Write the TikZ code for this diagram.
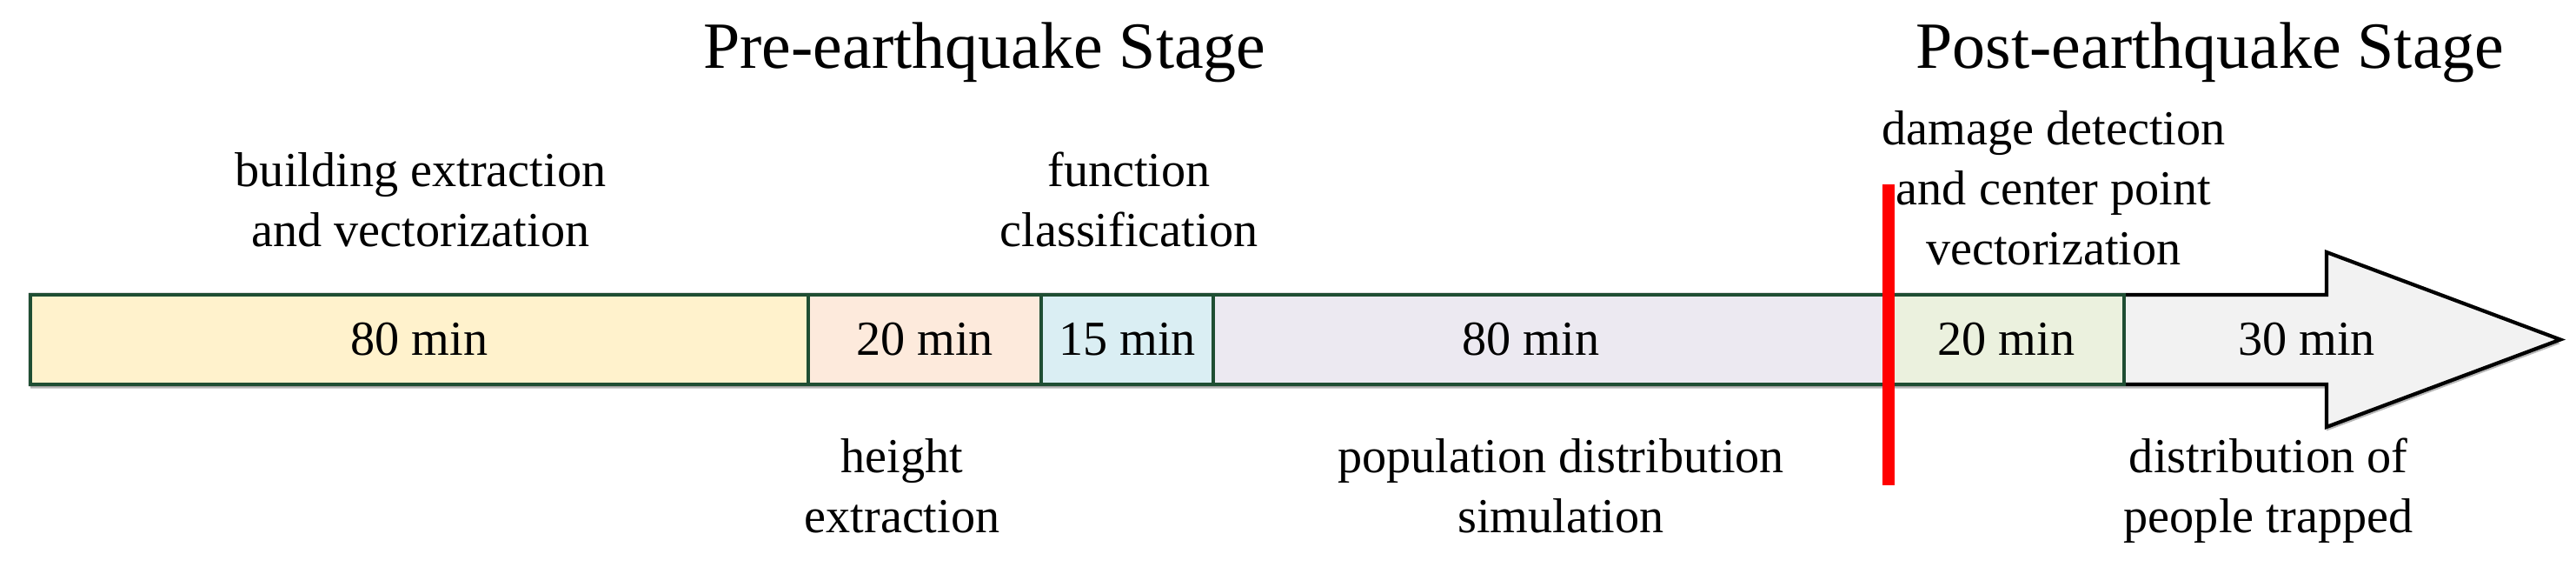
\documentclass[tikz,border=0pt]{standalone}
\usepackage{fontspec}
\setmainfont{Liberation Serif}
\usetikzlibrary{shadows}
\definecolor{segline}{HTML}{1F4E33}
\definecolor{segyellow}{HTML}{FFF2CC}
\definecolor{segpeach}{HTML}{FDEADC}
\definecolor{segblue}{HTML}{DAEEF3}
\definecolor{seglav}{HTML}{ECE9F1}
\definecolor{seggreen}{HTML}{EBF1DE}
\definecolor{arrowgray}{HTML}{F2F2F2}
\begin{document}
\begin{tikzpicture}[
	seg/.style={draw=segline,line width=1.2pt,rectangle,minimum height=1.03cm,inner sep=0pt,font=\fontsize{16}{19.5}\selectfont},
	lbl/.style={align=center,anchor=base,inner sep=0pt,font=\fontsize{16}{19.5}\selectfont},
	stagetitle/.style={anchor=base,inner sep=0pt,font=\fontsize{21.6}{26}\selectfont}]
	\useasboundingbox (0,0) rectangle (29.64,6.51);
	% timeline arrow
	\draw[line width=1.2pt,fill=arrowgray,drop shadow={shadow xshift=0cm,shadow yshift=-0.045cm,fill=black!35,opacity=0.8}] (0.35,2.09) -- (26.77,2.09) -- (26.77,1.60) -- (29.46,2.605) -- (26.77,3.61) -- (26.77,3.12) -- (0.35,3.12) -- cycle;
	\node[font=\fontsize{16}{19.5}\selectfont] (post2) at (26.54,2.605) {30 min};
	% stages
	\node[seg,fill=segyellow,minimum width=8.95cm] (extract) at (4.825,2.605) {80 min};
	\node[seg,fill=segpeach,minimum width=2.68cm] (height) at (10.64,2.605) {20 min};
	\node[seg,fill=segblue,minimum width=1.98cm] (func) at (12.97,2.605) {15 min};
	\node[seg,fill=seglav,minimum width=7.77cm] (popu) at (17.845,2.605) {};
	\node[font=\fontsize{16}{19.5}\selectfont] at ([xshift=-0.23cm]popu.center) {80 min};
	\node[seg,fill=seggreen,minimum width=2.71cm] (damage) at (23.085,2.605) {20 min};
	% earthquake
	\coordinate (quakeT) at (21.73,4.39);
	\coordinate (quakeB) at (21.73,0.93);
	\draw[red,line width=4.2pt] (quakeT) -- (quakeB);
	% labels (base = last line)
	\node[stagetitle] (pre) at (11.33,5.73) {Pre-earthquake Stage};
	\node[stagetitle] (post) at (25.43,5.73) {Post-earthquake Stage};
	\node[lbl] (extractlbl) at (4.84,3.68) {building extraction\\and vectorization};
	\node[lbl] (funclbl) at (12.99,3.68) {function\\classification};
	\node[lbl] (damagelbl) at (23.63,3.47) {damage detection\\and center point\\vectorization};
	\node[lbl] (heightlbl) at (10.38,0.39) {height\\extraction};
	\node[lbl] (populbl) at (17.96,0.39) {population distribution\\simulation};
	\node[lbl] (post2lbl) at (26.10,0.39) {distribution of\\people trapped};
\end{tikzpicture}
\end{document}
